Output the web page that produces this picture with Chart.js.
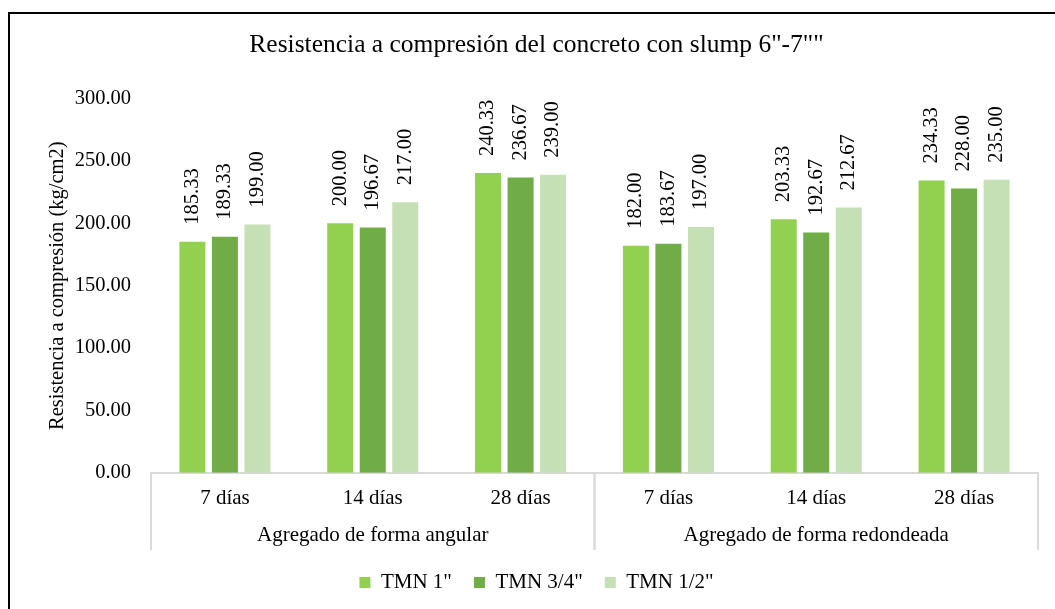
<!DOCTYPE html>
<html>
<head>
<meta charset="utf-8">
<title>Resistencia a compresión</title>
<script src="https://cdn.jsdelivr.net/npm/chart.js@4.4.0/dist/chart.umd.min.js"></script>
<style>
  html, body { margin: 0; padding: 0; background: #fff; overflow: hidden; }
  #frame {
    position: absolute; left: 8px; top: 12px; width: 1100px; height: 700px;
    border-left: 2px solid #000; border-top: 2px solid #000;
  }
  #wrap { position: absolute; left: 10px; top: 14px; width: 1053px; height: 595px; }
</style>
</head>
<body>
<div id="frame"></div>
<div id="wrap"><canvas id="strengthChart"></canvas></div>
<script>
// --- Data ---
const days = ["7 días", "14 días", "28 días", "7 días", "14 días", "28 días"];
const groups = ["Agregado de forma angular", "Agregado de forma redondeada"];
const groupSize = 3;

const tmn1 = [185.33, 200.00, 240.33, 182.00, 203.33, 234.33];
const tmn34 = [189.33, 196.67, 236.67, 183.67, 192.67, 228.00];
const tmn12 = [199.00, 217.00, 239.00, 197.00, 212.67, 235.00];

const yTicks = [0, 50, 100, 150, 200, 250, 300];

const FONT = "'Liberation Serif', 'Times New Roman', serif";

// --- Value labels above bars, rotated ---
const barLabels = {
  id: "barLabels",
  afterDatasetsDraw(chart) {
    const ctx = chart.ctx;
    ctx.save();
    ctx.font = "20.5px " + FONT;
    ctx.fillStyle = "#000";
    ctx.textAlign = "left";
    ctx.textBaseline = "middle";
    chart.data.datasets.forEach((ds, i) => {
      chart.getDatasetMeta(i).data.forEach((bar, j) => {
        ctx.save();
        ctx.translate(bar.x, bar.y - 17);
        ctx.rotate(-Math.PI / 2);
        ctx.fillText(ds.data[j].toFixed(2), 0, 0);
        ctx.restore();
      });
    });
    ctx.restore();
  }
};

// --- Second category row + separators ---
const groupAxis = {
  id: "groupAxis",
  afterDraw(chart) {
    const x = chart.scales.x;
    const ctx = chart.ctx;
    const half = (x.getPixelForValue(1) - x.getPixelForValue(0)) / 2;
    const top = chart.chartArea.bottom;
    const bottom = x.bottom;
    ctx.save();
    ctx.strokeStyle = "#d9d9d9";
    ctx.lineWidth = 2;
    ctx.font = "21px " + FONT;
    ctx.fillStyle = "#000";
    ctx.textAlign = "center";
    ctx.textBaseline = "middle";
    groups.forEach((g, k) => {
      const left = x.getPixelForValue(k * groupSize) - half;
      const right = x.getPixelForValue(k * groupSize + groupSize - 1) + half;
      [left, right].forEach(px => {
        ctx.beginPath();
        ctx.moveTo(px, top);
        ctx.lineTo(px, bottom);
        ctx.stroke();
      });
      ctx.fillText(g, (left + right) / 2, bottom - 15);
    });
    ctx.restore();
  }
};

const ctx = document.getElementById("strengthChart").getContext("2d");

const strengthChart = new Chart(ctx, {
  type: "bar",
  data: {
    labels: days,
    datasets: [
      { label: 'TMN 1"', data: tmn1, backgroundColor: "#92D050" },
      { label: 'TMN 3/4"', data: tmn34, backgroundColor: "#70AD47" },
      { label: 'TMN 1/2"', data: tmn12, backgroundColor: "#C5E0B4" }
    ]
  },
  options: {
    responsive: true,
    maintainAspectRatio: false,
    animation: false,
    datasets: {
      bar: { categoryPercentage: 0.66, barPercentage: 0.8, borderWidth: 0 }
    },
    layout: { padding: { left: 25, right: 25, top: 0, bottom: 6 } },
    plugins: {
      title: {
        display: true,
        text: 'Resistencia a compresión del concreto con slump 6"-7""',
        color: "#000",
        font: { family: FONT, size: 25.5, weight: "normal" },
        padding: { top: 16, bottom: 38 }
      },
      legend: {
        position: "bottom",
        labels: {
          color: "#000",
          font: { family: FONT, size: 21 },
          boxWidth: 11,
          boxHeight: 11,
          padding: 22
        }
      },
      tooltip: { enabled: false }
    },
    scales: {
      x: {
        grid: { display: false, drawTicks: false },
        border: { display: true, color: "#d9d9d9", width: 2 },
        ticks: { color: "#000", font: { family: FONT, size: 21 }, padding: 13, maxRotation: 0 },
        afterFit: (scale) => { scale.height += 26; }
      },
      y: {
        min: 0,
        max: 300,
        grid: { display: false, drawTicks: false },
        border: { display: false },
        afterBuildTicks: (scale) => { scale.ticks = yTicks.map(v => ({ value: v })); },
        afterFit: (scale) => { scale.width = 116; },
        ticks: {
          color: "#000",
          font: { family: FONT, size: 20.5 },
          padding: 20,
          callback: (v) => Number(v).toFixed(2)
        },
        title: {
          display: true,
          text: "Resistencia a compresión (kg/cm2)",
          color: "#000",
          font: { family: FONT, size: 20.5 },
          padding: { top: 10, bottom: 0 }
        }
      }
    }
  },
  plugins: [barLabels, groupAxis]
});
</script>
</body>
</html>
